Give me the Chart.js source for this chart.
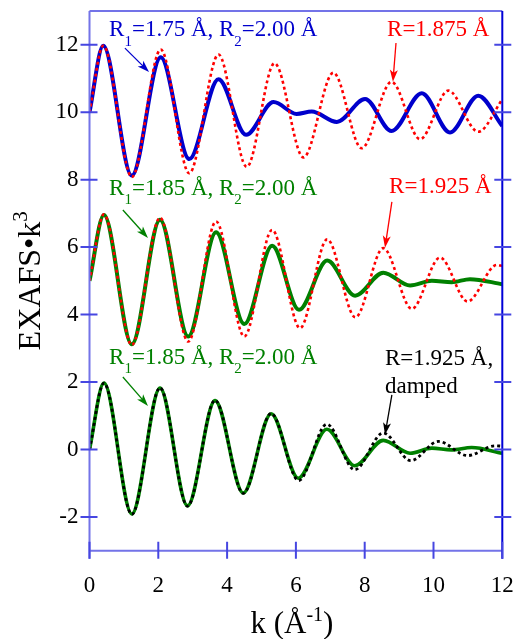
<!DOCTYPE html>
<html>
<head>
<meta charset="utf-8">
<title>EXAFS</title>
<script src="https://cdn.jsdelivr.net/npm/chart.js@4.4.0/dist/chart.umd.min.js"></script>
<style>
  html, body { margin: 0; padding: 0; background: #fff; }
  #wrap { width: 521px; height: 639px; }
</style>
</head>
<body>
<div id="wrap"><canvas id="exafs" width="521" height="639"></canvas></div>
<script>
// axis ticks
const xTicks = [0, 2, 4, 6, 8, 10, 12];
const yTicks = [-2, 0, 2, 4, 6, 8, 10, 12];

// top pair (shifted +10): two shells 1.75/2.00 and single shell 1.875
const kTwoShellA = [0, 0.40, 1.23, 2.07, 2.90, 3.75, 4.55, 5.35, 6.02, 6.46, 7.19, 8.01, 8.78, 9.66, 10.48, 11.30, 12];
const vTwoShellA = [10, 11.97, 8.12, 11.63, 8.61, 10.98, 9.33, 10.30, 9.95, 10.02, 9.71, 10.39, 9.44, 10.56, 9.40, 10.49, 9.59];
const kSingleA = [0, 0.40, 1.23, 2.07, 2.90, 3.75, 4.57, 5.38, 6.22, 7.09, 7.91, 8.78, 9.61, 10.43, 11.30, 12];
const vSingleA = [10, 11.97, 8.08, 11.86, 8.19, 11.71, 8.38, 11.45, 8.66, 11.17, 8.93, 10.90, 9.20, 10.64, 9.42, 10.38];

// middle pair (shifted +5): two shells 1.85/2.00 and single shell 1.925
const kTwoShellB = [0, 0.42, 1.23, 2.05, 2.87, 3.68, 4.50, 5.31, 6.09, 6.91, 7.72, 8.54, 9.32, 9.95, 10.53, 11.06, 12];
const vTwoShellB = [5, 6.95, 3.12, 6.81, 3.35, 6.44, 3.72, 6.04, 4.14, 5.60, 4.56, 5.24, 4.86, 5.00, 4.96, 5.05, 4.90];
const kSingleB = [0, 0.42, 1.23, 2.05, 2.87, 3.68, 4.50, 5.31, 6.12, 6.91, 7.73, 8.54, 9.37, 10.19, 10.99, 11.84, 12];
const vSingleB = [5, 6.97, 3.10, 6.87, 3.20, 6.76, 3.35, 6.51, 3.60, 6.23, 3.92, 5.97, 4.17, 5.69, 4.39, 5.47, 5.44];

// bottom pair: two shells 1.85/2.00 and damped single shell 1.925
const kTwoShellC = [0, 0.42, 1.23, 2.05, 2.85, 3.65, 4.47, 5.28, 6.07, 6.90, 7.71, 8.54, 9.32, 9.95, 10.52, 11.11, 12];
const vTwoShellC = [0, 1.97, -1.91, 1.82, -1.67, 1.45, -1.29, 1.06, -0.85, 0.60, -0.48, 0.27, -0.11, 0.04, -0.01, 0.06, -0.11];
const kDamped = [0, 0.42, 1.23, 2.05, 2.85, 3.65, 4.47, 5.28, 6.08, 6.90, 7.71, 8.54, 9.34, 10.14, 10.99, 11.79, 12];
const vDamped = [0, 1.97, -1.92, 1.83, -1.68, 1.46, -1.30, 1.07, -0.92, 0.75, -0.60, 0.49, -0.33, 0.24, -0.18, 0.11, 0.10];

const BLUE = '#0000cc';
const RED = '#ff0000';
const GREEN = '#008000';
const BLACK = '#000000';
const SERIF = '"Liberation Serif", "Times New Roman", serif';

// labels placed in data units; parts with 'sub' are subscripts
const notes = [
  { k: 0.57, v: 12.25, color: BLUE, parts: [['R'], ['1', 'sub'], ['=1.75 Å, R'], ['2', 'sub'], ['=2.00 Å']] },
  { k: 8.65, v: 12.26, color: RED, parts: [['R=1.875 Å']] },
  { k: 0.57, v: 7.55, color: GREEN, parts: [['R'], ['1', 'sub'], ['=1.85 Å, R'], ['2', 'sub'], ['=2.00 Å']] },
  { k: 8.71, v: 7.60, color: RED, parts: [['R=1.925 Å']] },
  { k: 0.57, v: 2.54, color: GREEN, parts: [['R'], ['1', 'sub'], ['=1.85 Å, R'], ['2', 'sub'], ['=2.00 Å']] },
  { k: 8.59, v: 2.51, color: BLACK, parts: [['R=1.925 Å,']] },
  { k: 8.59, v: 1.68, color: BLACK, parts: [['damped']] }
];
const arrows = [
  { from: [1.03, 11.90], to: [1.73, 11.19], color: BLUE },
  { from: [8.91, 12.05], to: [8.82, 10.90], color: RED },
  { from: [0.97, 7.10], to: [1.70, 6.27], color: GREEN },
  { from: [8.79, 7.34], to: [8.59, 5.98], color: RED },
  { from: [0.97, 2.15], to: [1.70, 1.29], color: GREEN },
  { from: [8.79, 1.62], to: [8.59, 0.44], color: BLACK }
];

const pts = (ks, vs) => ks.map((k, i) => ({ x: k, y: vs[i] }));

function solid(ks, vs, color, w) {
  return { data: pts(ks, vs), borderColor: color, borderWidth: w, pointRadius: 0,
           cubicInterpolationMode: 'monotone', fill: false };
}
function dotted(ks, vs, color, w) {
  return { data: pts(ks, vs), borderColor: color, borderWidth: w, pointRadius: 0,
           borderDash: [3, 3], cubicInterpolationMode: 'monotone', fill: false };
}

// text with subscript/superscript pieces, left to right
function drawParts(ctx, x, y, parts, size) {
  parts.forEach(([txt, kind]) => {
    const s = kind ? Math.round(size * 0.65) : size;
    ctx.font = s + 'px ' + SERIF;
    const dy = kind === 'sub' ? size * 0.42 : kind === 'sup' ? -size * 0.4 : 0;
    ctx.fillText(txt, x, y + dy);
    x += ctx.measureText(txt).width;
  });
  return x;
}
function partsWidth(ctx, parts, size) {
  let w = 0;
  parts.forEach(([txt, kind]) => {
    ctx.font = (kind ? Math.round(size * 0.65) : size) + 'px ' + SERIF;
    w += ctx.measureText(txt).width;
  });
  return w;
}

const decorations = {
  id: 'decorations',
  afterDraw(chart) {
    const ctx = chart.ctx;
    const xs = chart.scales.x, ys = chart.scales.y;
    const a = chart.chartArea;
    ctx.save();

    // frame
    ctx.lineWidth = 2;
    ctx.strokeStyle = 'rgb(115,115,232)';
    ctx.beginPath();
    ctx.moveTo(a.left, a.top); ctx.lineTo(a.right, a.top);
    ctx.moveTo(a.left, a.top); ctx.lineTo(a.left, a.bottom + 8);
    ctx.moveTo(a.left, a.bottom); ctx.lineTo(a.right, a.bottom);
    ctx.stroke();
    ctx.strokeStyle = 'rgb(0,0,215)';
    ctx.beginPath();
    ctx.moveTo(a.right, a.top); ctx.lineTo(a.right, a.bottom + 8);
    ctx.stroke();

    // crossing ticks
    ctx.strokeStyle = 'rgb(70,70,225)';
    ctx.beginPath();
    ys.ticks.forEach(t => {
      const py = ys.getPixelForValue(t.value);
      ctx.moveTo(a.left - 9, py); ctx.lineTo(a.left + 8, py);
      ctx.moveTo(a.right - 8, py); ctx.lineTo(a.right + 9, py);
    });
    xs.ticks.forEach(t => {
      const px = xs.getPixelForValue(t.value);
      ctx.moveTo(px, a.bottom - 9); ctx.lineTo(px, a.bottom + 8);
    });
    ctx.stroke();

    // annotation arrows
    arrows.forEach(ar => {
      const x0 = xs.getPixelForValue(ar.from[0]), y0 = ys.getPixelForValue(ar.from[1]);
      const x1 = xs.getPixelForValue(ar.to[0]), y1 = ys.getPixelForValue(ar.to[1]);
      const ang = Math.atan2(y1 - y0, x1 - x0);
      ctx.strokeStyle = ar.color; ctx.fillStyle = ar.color;
      ctx.lineWidth = 1.3;
      ctx.beginPath(); ctx.moveTo(x0, y0);
      ctx.lineTo(x1 - 8 * Math.cos(ang), y1 - 8 * Math.sin(ang)); ctx.stroke();
      ctx.beginPath();
      ctx.moveTo(x1, y1);
      ctx.lineTo(x1 - 12 * Math.cos(ang) + 4 * Math.sin(ang), y1 - 12 * Math.sin(ang) - 4 * Math.cos(ang));
      ctx.lineTo(x1 - 9 * Math.cos(ang), y1 - 9 * Math.sin(ang));
      ctx.lineTo(x1 - 12 * Math.cos(ang) - 4 * Math.sin(ang), y1 - 12 * Math.sin(ang) + 4 * Math.cos(ang));
      ctx.closePath(); ctx.fill();
    });

    // annotation labels
    ctx.textBaseline = 'alphabetic';
    ctx.textAlign = 'left';
    notes.forEach(n => {
      ctx.fillStyle = n.color;
      drawParts(ctx, xs.getPixelForValue(n.k), ys.getPixelForValue(n.v), n.parts, 23);
    });

    // axis titles
    ctx.fillStyle = '#000';
    const xt = [['k (Å'], ['-1', 'sup'], [')']];
    const xw = partsWidth(ctx, xt, 31);
    drawParts(ctx, (a.left + a.right) / 2 - xw / 2 - 4, 633, xt, 31);

    const yt = [['EXAFS•k'], ['3', 'sup']];
    const yw = partsWidth(ctx, yt, 32);
    ctx.translate(40, (a.top + a.bottom) / 2);
    ctx.rotate(-Math.PI / 2);
    drawParts(ctx, -yw / 2, 0, yt, 32);
    ctx.restore();
  }
};

const tickFont = { family: SERIF, size: 23 };

new Chart(document.getElementById('exafs'), {
  type: 'line',
  data: {
    datasets: [
      dotted(kSingleA, vSingleA, RED, 2.6),
      solid(kTwoShellA, vTwoShellA, BLUE, 4),
      dotted(kSingleB, vSingleB, RED, 2.6),
      solid(kTwoShellB, vTwoShellB, GREEN, 4),
      dotted(kDamped, vDamped, BLACK, 2.8),
      solid(kTwoShellC, vTwoShellC, GREEN, 3.6)
    ]
  },
  options: {
    responsive: false,
    animation: false,
    events: [],
    layout: { padding: { top: 11, right: 18.7, left: 0, bottom: 0 } },
    plugins: { legend: { display: false }, tooltip: { enabled: false } },
    scales: {
      x: {
        type: 'linear', min: 0, max: 12,
        afterBuildTicks: s => { s.ticks = xTicks.map(v => ({ value: v })); },
        afterFit: s => { s.height = 88.3; s.paddingLeft = 0; s.paddingRight = 0; },
        grid: { display: false, drawTicks: false },
        border: { display: false },
        ticks: { font: tickFont, color: '#000', padding: 21, maxRotation: 0, autoSkip: false }
      },
      y: {
        type: 'linear', min: -3, max: 13,
        afterBuildTicks: s => { s.ticks = yTicks.map(v => ({ value: v })); },
        afterFit: s => { s.width = 89.5; s.paddingTop = 0; s.paddingBottom = 0; },
        grid: { display: false, drawTicks: false },
        border: { display: false },
        ticks: { font: tickFont, color: '#000', padding: 11 }
      }
    }
  },
  plugins: [decorations]
});
</script>
</body>
</html>
